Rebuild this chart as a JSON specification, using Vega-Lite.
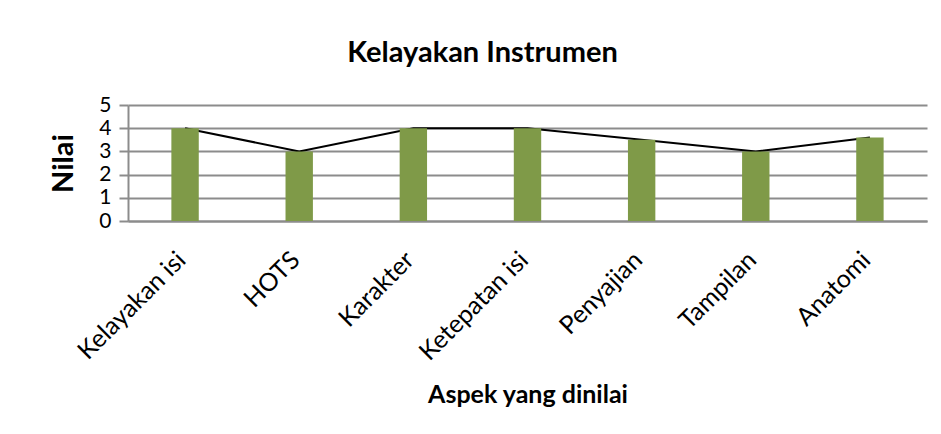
{
  "$schema": "https://vega.github.io/schema/vega-lite/v6.json",
  "autosize": "none",
  "width": 799,
  "height": 116,
  "padding": {"left": 128, "top": 105, "right": 14, "bottom": 213},
  "background": "white",
  "config": {
    "view": {"stroke": null},
    "font": "Lato"
  },
  "title": {
    "text": "Kelayakan Instrumen",
    "font": "Lato",
    "fontSize": 29,
    "fontWeight": "bold",
    "color": "#000000",
    "anchor": "middle",
    "baseline": "alphabetic",
    "dx": -45,
    "dy": 41,
    "offset": 44
  },
  "data": {
    "values": [
      {"aspek": "Kelayakan isi", "nilai": 4.0},
      {"aspek": "HOTS", "nilai": 3.0},
      {"aspek": "Karakter", "nilai": 4.0},
      {"aspek": "Ketepatan isi", "nilai": 4.0},
      {"aspek": "Penyajian", "nilai": 3.5},
      {"aspek": "Tampilan", "nilai": 3.0},
      {"aspek": "Anatomi", "nilai": 3.6}
    ]
  },
  "encoding": {
    "x": {
      "field": "aspek",
      "type": "nominal",
      "sort": null,
      "scale": {"paddingInner": 0.76, "paddingOuter": 0.38},
      "axis": {
        "title": "Aspek yang dinilai",
        "titleFont": "Lato",
        "titleFontSize": 25,
        "titleFontWeight": "bold",
        "titleColor": "#000000",
        "titlePadding": 18,
        "labelAngle": -45,
        "labelAlign": "right",
        "labelBaseline": "top",
        "labelFont": "Lato",
        "labelFontSize": 25,
        "labelColor": "#000000",
        "labelPadding": 26,
        "labelOffset": -12,
        "ticks": false,
        "domain": true,
        "domainColor": "#8c8c8c",
        "domainWidth": 2,
        "grid": false
      }
    },
    "y": {
      "field": "nilai",
      "type": "quantitative",
      "scale": {"domain": [0, 5], "nice": false},
      "axis": {
        "title": "Nilai",
        "titleFont": "Lato",
        "titleFontSize": 29,
        "titleFontWeight": "bold",
        "titleColor": "#000000",
        "titlePadding": 20,
        "values": [0, 1, 2, 3, 4, 5],
        "labelFont": "Lato",
        "labelFontSize": 21,
        "labelColor": "#000000",
        "labelPadding": 8,
        "tickSize": 9,
        "tickColor": "#8c8c8c",
        "tickWidth": 2,
        "domain": true,
        "domainColor": "#8c8c8c",
        "domainWidth": 2,
        "grid": true,
        "gridColor": "#8c8c8c",
        "gridWidth": 2
      }
    }
  },
  "layer": [
    {
      "mark": {"type": "line", "color": "#000000", "strokeWidth": 2}
    },
    {
      "mark": {"type": "bar", "color": "#7f9a48"}
    }
  ]
}
